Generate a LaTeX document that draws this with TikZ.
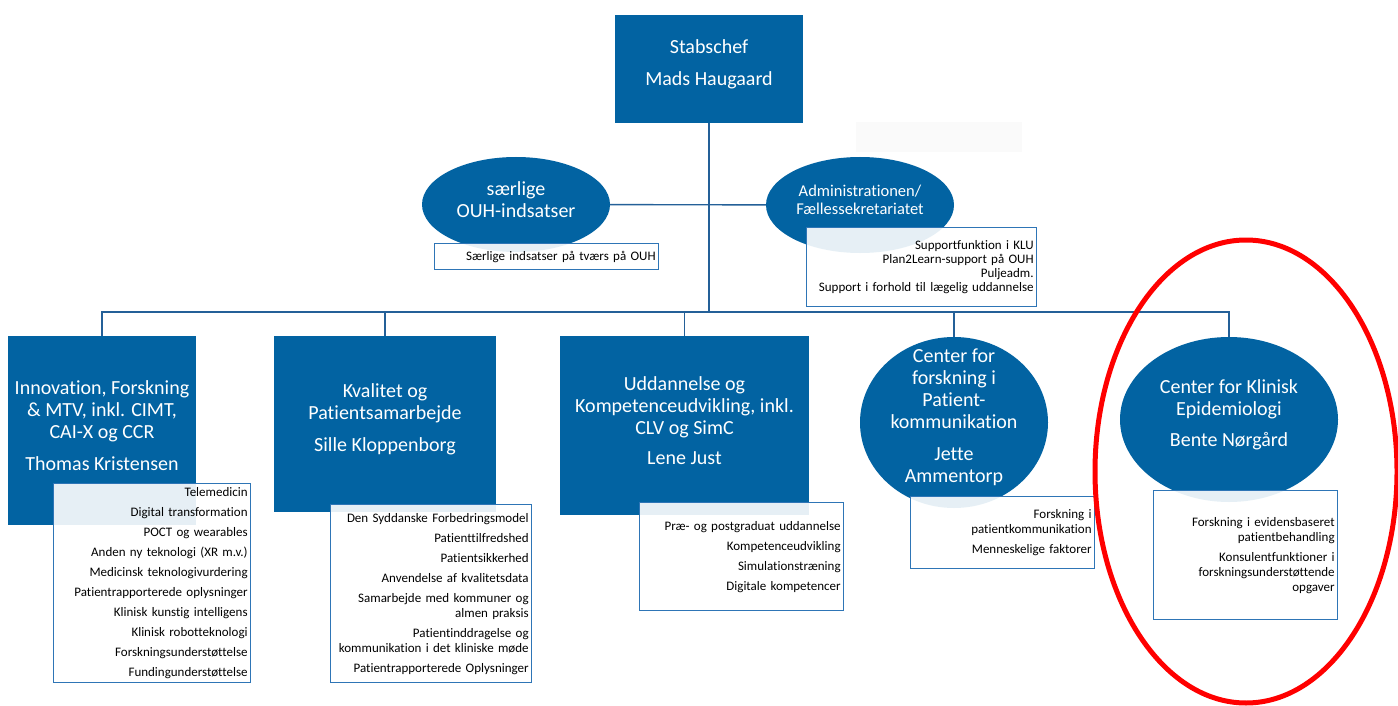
\documentclass[tikz,border=0pt]{standalone}
\usepackage{fontspec}
\setmainfont{Carlito}[Ligatures={TeX,NoCommon}]
\usetikzlibrary{shapes.geometric}
\definecolor{ouhblue}{RGB}{2,99,162}
\definecolor{linkblue}{RGB}{36,96,152}
\definecolor{taskline}{RGB}{46,117,182}
\newcommand\unitfont{\fontsize{20}{22}\selectfont}
\newcommand\adminfont{\fontsize{16.5}{18}\selectfont}
\newcommand\taskfont{\fontsize{13}{15}\selectfont}

\begin{document}
\begin{tikzpicture}[x=1pt, y=-1pt,
      every node/.style = {align=center, inner sep=0pt},
      unitbox/.style = {shape=rectangle, fill=ouhblue},
      unitoval/.style = {shape=ellipse, fill=ouhblue},
      title/.style = {text=white, font=\unitfont, yshift=5pt},
      taskbox/.style = {shape=rectangle, anchor=north west, draw=taskline,
        line width=1.3pt, fill=white, fill opacity=0.9, text opacity=1,
        align=right, font=\taskfont, inner xsep=3pt},
      link/.style = {draw=linkblue, line width=1.4pt}]
      \useasboundingbox[fill=white] (0,0) rectangle (1398,706);
      \fill[black!2] (856,122) rectangle (1022,152);
      \node[unitbox, minimum width=188, minimum height=108,
        label={[title]center:{Stabschef\\[10pt]Mads Haugaard}}] (chief) at (709,69) {};
      \node[unitoval, minimum width=188, minimum height=95,
        label={[title]center:{særlige\\OUH-indsatser}}] (saerlige) at (516,204.5) {};
      \node[unitoval, minimum width=188, minimum height=96,
        label={[title, font=\adminfont]center:{Administrationen/\\Fællessekretariatet}}] (admin) at (860,205) {};
      \node[unitbox, minimum width=188, minimum height=189,
        label={[title]center:{Innovation, Forskning\\\& MTV, inkl. CIMT,\\CAI-X og CCR\\[10pt]Thomas Kristensen}}] (innov) at (102,430.5) {};
      \node[unitbox, minimum width=222, minimum height=176,
        label={[title]center:{Kvalitet og\\Patientsamarbejde\\[10pt]Sille Kloppenborg}}] (kval) at (385,424) {};
      \node[unitbox, minimum width=249, minimum height=179,
        label={[title]center:{Uddannelse og\\Kompetenceudvikling, inkl.\\CLV og SimC\\[8pt]Lene Just}}] (udd) at (684.5,425.5) {};
      \node[unitoval, minimum width=188, minimum height=171,
        label={[title]center:{Center for\\forskning i\\Patient-\\kommunikation\\[10pt]Jette\\Ammentorp}}] (jette) at (954,422.5) {};
      \node[unitoval, minimum width=218, minimum height=165,
        label={[title]center:{Center for Klinisk\\Epidemiologi\\[9pt]Bente Nørgård}}] (bente) at (1229,419.5) {};

      \node[taskbox, text width=218, minimum height=26] (saertasks) at (434,243)
        {Særlige indsatser på tværs på OUH};
      \node[taskbox, text width=224, minimum height=79,
        font=\fontsize{13}{14.3}\selectfont] (admintasks) at (806,227)
        {Supportfunktion i KLU\\Plan2Learn-support på OUH\\Puljeadm.\\Support i forhold til lægelig uddannelse};
      \node[taskbox, text width=191, minimum height=199] (innovtasks) at (53,483)
        {Telemedicin\\[5pt]Digital transformation\\[5pt]POCT og wearables\\[5pt]Anden ny teknologi (XR m.v.)\\[5pt]Medicinsk teknologivurdering\\[5pt]Patientrapporterede oplysninger\\[5pt]Klinisk kunstig intelligens\\[5pt]Klinisk robotteknologi\\[5pt]Forskningsunderstøttelse\\[5pt]Fundingunderstøttelse};
      \node[taskbox, text width=195, minimum height=178] (kvaltasks) at (330,504)
        {Den Syddanske Forbedringsmodel\\[5pt]Patienttilfredshed\\[5pt]Patientsikkerhed\\[5pt]Anvendelse af kvalitetsdata\\[5pt]Samarbejde med kommuner og\\almen praksis\\[5pt]Patientinddragelse og\\kommunikation i det kliniske møde\\[5pt]Patientrapporterede Oplysninger};
      \node[taskbox, text width=198, minimum height=108] (uddtasks) at (639,502)
        {Præ- og postgraduat uddannelse\\[5pt]Kompetenceudvikling\\[5pt]Simulationstræning\\[5pt]Digitale kompetencer};
      \node[taskbox, text width=178, minimum height=72] (jettetasks) at (910,496)
        {Forskning i\\patientkommunikation\\[5pt]Menneskelige faktorer};
      \node[taskbox, text width=178, minimum height=129] (bentetasks) at (1153,490)
        {Forskning i evidensbaseret\\patientbehandling\\[5pt]Konsulentfunktioner i\\forskningsunderstøttende\\opgaver};

      \coordinate (bus) at (710,312);
      \draw[link] (chief) -- (chief |- bus);
      \draw[link] (saerlige) -- (admin);
      \draw[link] (innov.north) |- (bus) -| (bente.north);
      \foreach \unit in {kval, udd, jette}
        \draw[link] (\unit.north) -- (\unit.north |- bus);

      \draw[red, line width=5pt] (1246,471.5) ellipse [x radius=151, y radius=231.5];
\end{tikzpicture}
\end{document}
